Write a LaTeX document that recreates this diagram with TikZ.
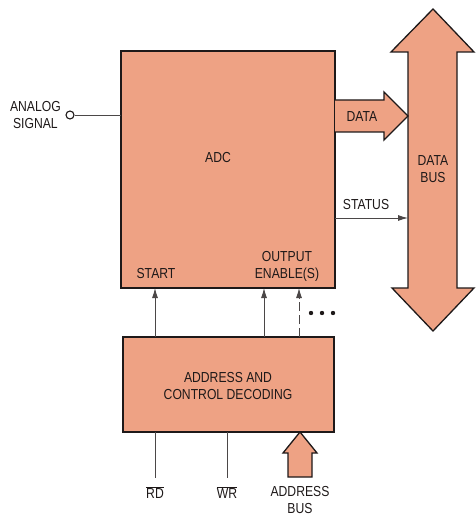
\documentclass[tikz,border=0pt]{standalone}
\usepackage{fontspec}
\setmainfont[FakeStretch=0.84]{Liberation Sans}
\usetikzlibrary{arrows.meta}
\definecolor{salmon}{RGB}{238,162,132}
\definecolor{ink}{RGB}{30,25,25}
\tikzset{
  blk/.style={draw=ink, line width=1.5pt, fill=salmon, anchor=north west, inner sep=0pt, outer sep=0pt},
  lbl/.style={font=\fontsize{14.5}{17}\selectfont, text=ink, inner sep=0pt, align=center},
  sig/.style={draw=ink!80, line width=0.9pt},
  sigarr/.style={sig, -{Latex[length=10pt,width=6pt]}},
  bigarrow/.style={draw=ink, line width=1.3pt, fill=salmon, line join=miter}
}
\begin{document}
\begin{tikzpicture}[x=1pt,y=-1pt]
\useasboundingbox (0,0) rectangle (475,518);
% boxes
\node[blk, minimum width=214pt, minimum height=237pt] (adc) at (121,51) {};
\node[blk, minimum width=211pt, minimum height=95pt] (addr) at (123,337) {};
\node[lbl] (adct) at (218,158) {ADC};
\node[lbl] (addrt) at (228,386) {ADDRESS AND\\CONTROL DECODING};
% analog signal
\node[draw=ink, line width=1.1pt, circle, minimum size=8pt, inner sep=0pt, fill=white] (in) at (70,115) {};
\node[lbl, anchor=east] (inl) at (61,115) {ANALOG\\SIGNAL};
\draw[sig] (in) -- (in -| adc.west);
% data bus double arrow
\draw[bigarrow] (433,9) -- (474,52) -- (457,52) -- (457,288) -- (474,288) -- (433,331)
  -- (392,288) -- (408,288) -- (408,52) -- (391,52) -- cycle;
\node[lbl] (bus) at (433,169) {DATA\\BUS};
\coordinate (busl) at (408,0);
% data arrow
\draw[bigarrow] (335,100) -- (384,100) -- (384,92) -- (408,116) -- (384,140) -- (384,132) -- (335,132);
\node[lbl] (datat) at (362,117) {DATA};
% status
\node[lbl] (statust) at (366,205) {STATUS};
\coordinate (st) at (0,218);
\draw[sigarr] (adc.east |- st) -- (busl |- st);
% inputs labels
\node[lbl] (start) at (156,274) {START};
\node[lbl] (oe) at (287,266) {OUTPUT\\ENABLE(S)};
\coordinate (x1) at (155,0);
\coordinate (x2) at (264,0);
\coordinate (x3) at (299,0);
\draw[sigarr] (addr.north -| x1) -- (adc.south -| x1);
\draw[sigarr] (addr.north -| x2) -- (adc.south -| x2);
\draw[sig, dash pattern=on 9pt off 4pt, -{Latex[length=10pt,width=6pt]}] (addr.north -| x3) -- (adc.south -| x3);
\foreach \i/\xx in {1/311,2/322,3/333} \fill[ink] (\xx,313) circle (2.2pt);
% bottom signals
\coordinate (x4) at (227,0);
\coordinate (bot) at (0,478);
\draw[sig] (addr.south -| x1) -- (bot -| x1);
\draw[sig] (addr.south -| x4) -- (bot -| x4);
\node[lbl] (rd) at (155,493) {$\overline{\hbox{RD}}$};
\node[lbl] (wr) at (227,493) {$\overline{\hbox{WR}}$};
% address bus arrow
\draw[bigarrow] (300,432) -- (317,453) -- (312,453) -- (312,477) -- (288,477) -- (288,453) -- (283,453) -- cycle;
\node[lbl] (abus) at (300,500.5) {ADDRESS\\BUS};
\end{tikzpicture}
\end{document}
